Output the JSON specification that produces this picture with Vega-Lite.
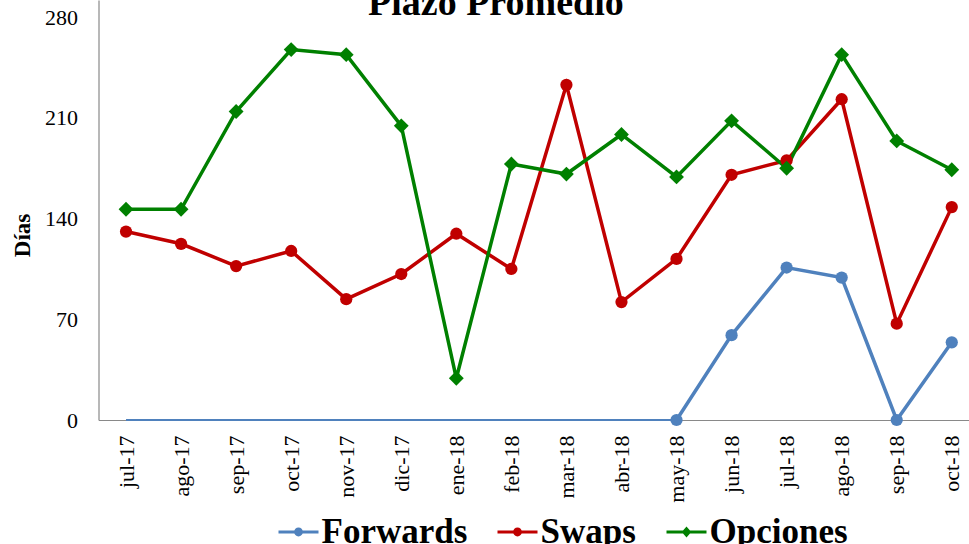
{
  "$schema": "https://vega.github.io/schema/vega-lite/v6.json",
  "width": 880.8,
  "height": 420,
  "autosize": {"type": "none"},
  "padding": {"left": 98.5, "top": 0, "right": -10.3, "bottom": 124},
  "background": "white",
  "config": {
    "view": {"stroke": null},
    "font": "Liberation Serif"
  },
  "title": {
    "text": "Plazo Promedio",
    "font": "Liberation Serif",
    "fontSize": 38,
    "fontWeight": "bold",
    "color": "black",
    "anchor": "middle",
    "frame": "group",
    "dx": -43,
    "baseline": "alphabetic",
    "offset": -53
  },
  "data": {
    "values": [
      {"mes": "jul-17", "idx": 1, "serie": "Forwards", "valor": 0},
      {"mes": "ago-17", "idx": 2, "serie": "Forwards", "valor": 0},
      {"mes": "sep-17", "idx": 3, "serie": "Forwards", "valor": 0},
      {"mes": "oct-17", "idx": 4, "serie": "Forwards", "valor": 0},
      {"mes": "nov-17", "idx": 5, "serie": "Forwards", "valor": 0},
      {"mes": "dic-17", "idx": 6, "serie": "Forwards", "valor": 0},
      {"mes": "ene-18", "idx": 7, "serie": "Forwards", "valor": 0},
      {"mes": "feb-18", "idx": 8, "serie": "Forwards", "valor": 0},
      {"mes": "mar-18", "idx": 9, "serie": "Forwards", "valor": 0},
      {"mes": "abr-18", "idx": 10, "serie": "Forwards", "valor": 0},
      {"mes": "may-18", "idx": 11, "serie": "Forwards", "valor": 0},
      {"mes": "jun-18", "idx": 12, "serie": "Forwards", "valor": 59},
      {"mes": "jul-18", "idx": 13, "serie": "Forwards", "valor": 106},
      {"mes": "ago-18", "idx": 14, "serie": "Forwards", "valor": 99},
      {"mes": "sep-18", "idx": 15, "serie": "Forwards", "valor": 0},
      {"mes": "oct-18", "idx": 16, "serie": "Forwards", "valor": 54},
      {"mes": "jul-17", "idx": 1, "serie": "Swaps", "valor": 131},
      {"mes": "ago-17", "idx": 2, "serie": "Swaps", "valor": 122.5},
      {"mes": "sep-17", "idx": 3, "serie": "Swaps", "valor": 107},
      {"mes": "oct-17", "idx": 4, "serie": "Swaps", "valor": 117.5},
      {"mes": "nov-17", "idx": 5, "serie": "Swaps", "valor": 84},
      {"mes": "dic-17", "idx": 6, "serie": "Swaps", "valor": 101.5},
      {"mes": "ene-18", "idx": 7, "serie": "Swaps", "valor": 129.5},
      {"mes": "feb-18", "idx": 8, "serie": "Swaps", "valor": 105},
      {"mes": "mar-18", "idx": 9, "serie": "Swaps", "valor": 233},
      {"mes": "abr-18", "idx": 10, "serie": "Swaps", "valor": 82},
      {"mes": "may-18", "idx": 11, "serie": "Swaps", "valor": 112},
      {"mes": "jun-18", "idx": 12, "serie": "Swaps", "valor": 170.5},
      {"mes": "jul-18", "idx": 13, "serie": "Swaps", "valor": 180.5},
      {"mes": "ago-18", "idx": 14, "serie": "Swaps", "valor": 223},
      {"mes": "sep-18", "idx": 15, "serie": "Swaps", "valor": 67},
      {"mes": "oct-18", "idx": 16, "serie": "Swaps", "valor": 148},
      {"mes": "jul-17", "idx": 1, "serie": "Opciones", "valor": 146.5},
      {"mes": "ago-17", "idx": 2, "serie": "Opciones", "valor": 146.5},
      {"mes": "sep-17", "idx": 3, "serie": "Opciones", "valor": 214.5},
      {"mes": "oct-17", "idx": 4, "serie": "Opciones", "valor": 257.5},
      {"mes": "nov-17", "idx": 5, "serie": "Opciones", "valor": 254},
      {"mes": "dic-17", "idx": 6, "serie": "Opciones", "valor": 204.5},
      {"mes": "ene-18", "idx": 7, "serie": "Opciones", "valor": 29},
      {"mes": "feb-18", "idx": 8, "serie": "Opciones", "valor": 178},
      {"mes": "mar-18", "idx": 9, "serie": "Opciones", "valor": 171},
      {"mes": "abr-18", "idx": 10, "serie": "Opciones", "valor": 198.5},
      {"mes": "may-18", "idx": 11, "serie": "Opciones", "valor": 169},
      {"mes": "jun-18", "idx": 12, "serie": "Opciones", "valor": 208},
      {"mes": "jul-18", "idx": 13, "serie": "Opciones", "valor": 175},
      {"mes": "ago-18", "idx": 14, "serie": "Opciones", "valor": 254},
      {"mes": "sep-18", "idx": 15, "serie": "Opciones", "valor": 194},
      {"mes": "oct-18", "idx": 16, "serie": "Opciones", "valor": 174}
    ]
  },
  "encoding": {
    "x": {
      "field": "mes",
      "type": "ordinal",
      "sort": null,
      "scale": {
        "type": "point",
        "padding": 0.5,
        "domain": ["jul-17", "ago-17", "sep-17", "oct-17", "nov-17", "dic-17", "ene-18", "feb-18", "mar-18", "abr-18", "may-18", "jun-18", "jul-18", "ago-18", "sep-18", "oct-18"]
      },
      "axis": {
        "title": null,
        "labelAngle": -90,
        "labelFont": "Liberation Serif",
        "labelFontSize": 22,
        "labelColor": "black",
        "labelPadding": 15,
        "ticks": false,
        "tickSize": 0,
        "domainColor": "#898989",
        "domainWidth": 1.2,
        "grid": false
      }
    },
    "y": {
      "field": "valor",
      "type": "quantitative",
      "scale": {"domain": [0, 292], "nice": false, "zero": true},
      "axis": {
        "title": "Días",
        "titleFont": "Liberation Serif",
        "titleFontSize": 23,
        "titleFontWeight": "bold",
        "titleColor": "black",
        "titleX": -76.5,
        "titleY": 235,
        "titleAlign": "center",
        "titleBaseline": "middle",
        "titleAngle": -90,
        "values": [0, 70, 140, 210, 280],
        "labelFont": "Liberation Serif",
        "labelFontSize": 22,
        "labelColor": "black",
        "labelPadding": 21,
        "ticks": false,
        "tickSize": 0,
        "domainColor": "#898989",
        "domainWidth": 1.2,
        "grid": false
      }
    },
    "color": {
      "field": "serie",
      "type": "nominal",
      "scale": {
        "domain": ["Forwards", "Swaps", "Opciones"],
        "range": ["#4F81BD", "#C00000", "#008000"]
      },
      "legend": {
        "title": null,
        "orient": "none",
        "direction": "horizontal",
        "legendX": 180,
        "legendY": 512,
        "padding": 0,
        "labelFont": "Liberation Serif",
        "labelFontSize": 35,
        "labelFontWeight": "bold",
        "labelColor": "black",
        "labelLimit": 400,
        "labelOffset": 3,
        "columnPadding": 30,
        "symbolSize": 1600,
        "symbolStrokeWidth": 0,
        "encode": {
          "symbols": {
            "update": {
              "shape": {"signal": "datum.value === 'Opciones' ? 'M-1,-0.075L1,-0.075L1,0.075L-1,0.075Z M0,-0.28L0.24,0L0,0.28L-0.24,0Z' : 'M-1,-0.075L1,-0.075L1,0.075L-1,0.075Z M0.22,0A0.22,0.22,0,1,1,-0.22,0A0.22,0.22,0,1,1,0.22,0Z'"},
              "fill": {"scale": "color", "field": "value"},
              "fillOpacity": {"value": 1},
              "strokeWidth": {"value": 0},
              "opacity": {"value": 1}
            }
          }
        }
      }
    }
  },
  "layer": [
    {
      "transform": [{"filter": "datum.serie === 'Forwards' && datum.idx <= 11"}],
      "mark": {"type": "line", "strokeWidth": 1.8}
    },
    {
      "transform": [{"filter": "!(datum.serie === 'Forwards' && datum.idx < 11)"}],
      "mark": {"type": "line", "strokeWidth": 3.5}
    },
    {
      "transform": [{"filter": "datum.serie === 'Swaps' || (datum.serie === 'Forwards' && datum.idx >= 11)"}],
      "mark": {"type": "point", "shape": "circle", "filled": true, "opacity": 1, "size": 150}
    },
    {
      "transform": [{"filter": "datum.serie === 'Opciones'"}],
      "mark": {"type": "point", "shape": "diamond", "filled": true, "opacity": 1, "size": 220}
    }
  ]
}
